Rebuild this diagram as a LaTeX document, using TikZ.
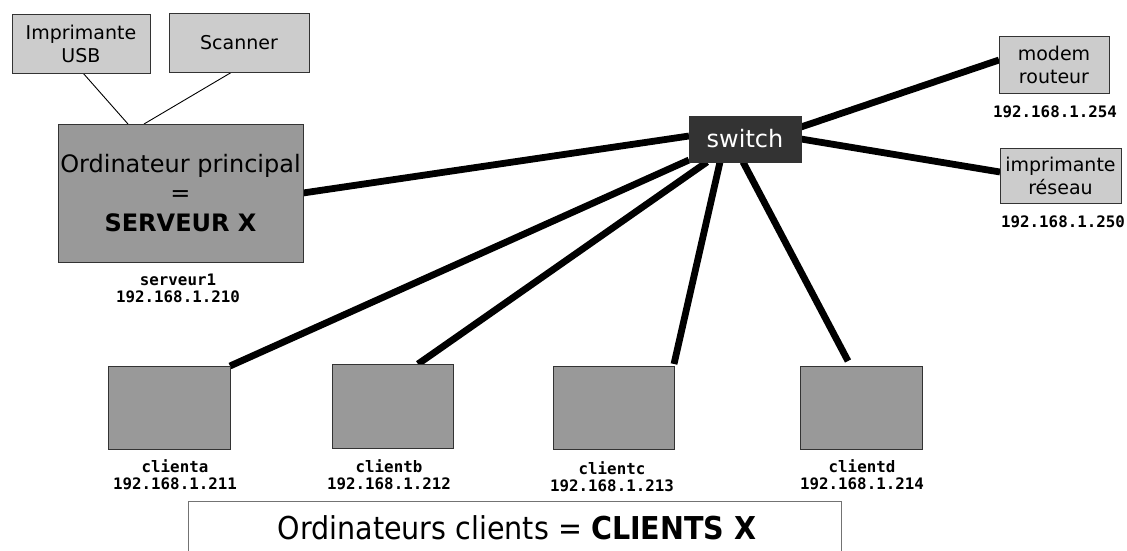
\documentclass[tikz,border=0pt]{standalone}
\usepackage{fontspec}
\setmainfont{DejaVu Sans}
\setmonofont{DejaVu Sans Mono}
\newfontfamily\narrowsans{DejaVu Sans}[FakeStretch=0.907]
\usetikzlibrary{calc}
\pgfdeclarelayer{paper}
\pgfdeclarelayer{cables}
\pgfsetlayers{paper,cables,main}
\definecolor{lightbox}{HTML}{CCCCCC}
\definecolor{pcfill}{HTML}{999999}
\definecolor{switchfill}{HTML}{333333}
\definecolor{frame}{HTML}{333333}
\tikzset{
  box/.style={draw=frame, line width=1pt, inner sep=0pt, outer sep=0pt, align=center},
  device/.style={box, fill=lightbox, font=\fontsize{19}{23}\selectfont},
  pc/.style={box, fill=pcfill},
  ip/.style={font=\ttfamily\bfseries\fontsize{15.8}{17}\selectfont, align=center, inner sep=0pt},
  link/.style={line width=6.8pt},
  cable/.style={line width=0.9pt},
}
\begin{document}
\begin{tikzpicture}[x=1pt,y=-1pt]
\useasboundingbox (0,0) rectangle (1127,550);
\begin{pgfonlayer}{paper}
  \fill[white] (0,0) rectangle (1127,550);
\end{pgfonlayer}

% peripherals of the main computer
\node[device, minimum width=138, minimum height=59] (usb) at (81,43.5) {Imprimante\\USB};
\node[device, minimum width=140, minimum height=59] (scan) at (239,42.5) {Scanner};

% main computer
\node[pc, minimum width=245, minimum height=138,
      font=\fontsize{24}{29.5}\selectfont] (server) at (180.5,193)
  {Ordinateur principal\\=\\\textbf{SERVEUR X}};
\node[ip] (serverip) at (178,288.5) {serveur1\\192.168.1.210};

% switch
\node[box, fill=switchfill, text=white, minimum width=112, minimum height=46,
      font=\fontsize{24}{28}\selectfont] (switch) at (745,139) {switch};

% network devices
\node[device, minimum width=110, minimum height=57] (modem) at (1054,64.5) {modem\\routeur};
\node[ip] (modemip) at (1055,112) {192.168.1.254};
\node[device, minimum width=121, minimum height=55] (netprn) at (1060.5,175.5) {imprimante\\réseau};
\node[ip] (netprnip) at (1063,222) {192.168.1.250};

% client computers
\node[pc, minimum width=122, minimum height=83] (ca) at (169,407.5) {};
\node[pc, minimum width=121, minimum height=84] (cb) at (392.5,406) {};
\node[pc, minimum width=121, minimum height=83] (cc) at (613.5,407.5) {};
\node[pc, minimum width=122, minimum height=83] (cd) at (861,407.5) {};
\node[ip] (caip) at (175,474.5) {clienta\\192.168.1.211};
\node[ip] (cbip) at (389,474.5) {clientb\\192.168.1.212};
\node[ip] (ccip) at (612,477) {clientc\\192.168.1.213};
\node[ip] (cdip) at (862,474.5) {clientd\\192.168.1.214};

% caption box, its lower edge runs off the page
\begin{scope}
  \clip (0,0) rectangle (1127,550);
  \node[draw=black!55, line width=1pt, fill=white, minimum width=653, minimum height=68,
        inner sep=0pt] (caption) at (514.5,535) {};
\end{scope}
\node[inner sep=0pt, font=\narrowsans\fontsize{31.5}{36}\selectfont] (captiontext) at (517,528)
  {Ordinateurs clients = \textbf{CLIENTS X}};

\begin{pgfonlayer}{cables}
  % USB cables
  \draw[cable] ($(usb.south)+(2,0)$) -- ($(server.north)+(-52.5,0)$);
  \draw[cable] ($(scan.south)+(-7,0)$) -- ($(server.north)+(-36.5,0)$);
  % ethernet links
  \draw[link] (server.east) -- ($(switch.west)+(0,-3)$);
  \draw[link] ($(switch.east)+(0,-12)$) -- ($(modem.west)+(0,-4.5)$);
  \draw[link] (switch.east) -- ($(netprn.west)+(0,-3.5)$);
  \draw[link] (ca.north east) -- ($(switch.south west)+(0,-2)$);
  \draw[link] ($(cb.north)+(25.5,0)$) -- ($(switch.south)+(-38,0)$);
  \draw[link] ($(cc.north east)+(0,-2)$) -- ($(switch.south)+(-25,0)$);
  \draw[link] ($(cd.north)+(-13,-5)$) -- ($(switch.south)+(-2,0)$);
\end{pgfonlayer}
\end{tikzpicture}
\end{document}
